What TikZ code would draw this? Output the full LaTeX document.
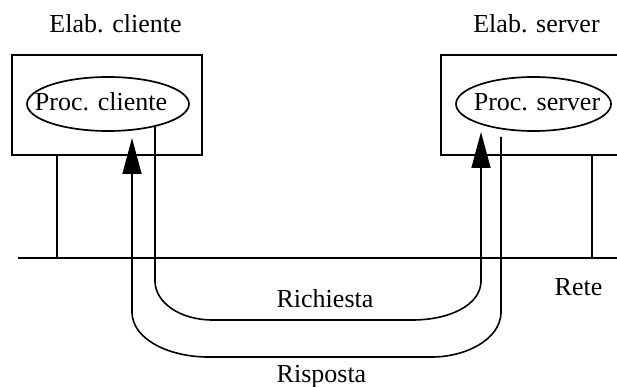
\documentclass[tikz,border=0pt]{standalone}
\usepackage{fontspec}
\setmainfont{Liberation Serif}
\usetikzlibrary{shapes.geometric,arrows.meta}
\begin{document}
\begin{tikzpicture}[x=1pt,y=-1pt,
  every node/.style={font=\fontsize{26}{30}\selectfont, inner sep=0pt},
  hostbox/.style={draw, line width=2pt, minimum width=190pt, minimum height=100pt},
  procell/.style={draw, ellipse, line width=1.7pt, minimum height=54pt},
  wire/.style={line width=1.6pt},
  netline/.style={line width=2pt},
  msg/.style={line width=1.6pt, -{Triangle[length=36pt,width=19pt]}},
  lbl/.style={anchor=base}]
  \useasboundingbox (0,0) rectangle (617,387);
  \clip (0,0) rectangle (617,387);

  % hosts
  \node[hostbox] (clientbox) at (107,105) {};
  \node[hostbox] (serverbox) at (536,105) {};
  \node[lbl] (clientlbl) at (115.5,33) {Elab. cliente};
  \node[lbl] (serverlbl) at (536.5,33) {Elab. server};

  % processes
  \node[procell, minimum width=162pt] (procC) at (108,104) {};
  \node[lbl] (procCtxt) at (101,111) {Proc. cliente};
  \node[procell, minimum width=155pt] (procS) at (533.5,104) {};
  \node[lbl] (procStxt) at (537,111) {Proc. server};

  % network
  \coordinate (netL) at (18,258);
  \coordinate (netR) at (617,258);
  \draw[netline] (netL) -- (netR);
  \node[lbl] (rete) at (578.5,295) {Rete};
  \coordinate (tapC) at (57,258);
  \coordinate (tapS) at (592,258);
  \draw[wire] (clientbox.south -| tapC) -- (tapC);
  \draw[wire] (serverbox.south -| tapS) -- (tapS);

  % request: client process -> server process
  \coordinate (reqFrom) at (155,127);
  \coordinate (reqTo) at (481,132);
  \draw[msg] (reqFrom) -- (155,282)
     .. controls (156,303) and (180,320) .. (213,320)
     -- (412,320)
     .. controls (450,320) and (480,305) .. (481,282)
     -- (reqTo);
  \node[lbl] (reqlbl) at (325,307) {Richiesta};

  % response: server process -> client process
  \coordinate (respFrom) at (501,137);
  \coordinate (respTo) at (132,138);
  \draw[msg] (respFrom) -- (501,313)
     .. controls (500,340) and (465,357) .. (432,357)
     -- (208,357)
     .. controls (170,357) and (133,340) .. (132,313)
     -- (respTo);
  \node[lbl] (resplbl) at (321.5,382) {Risposta};
\end{tikzpicture}
\end{document}
